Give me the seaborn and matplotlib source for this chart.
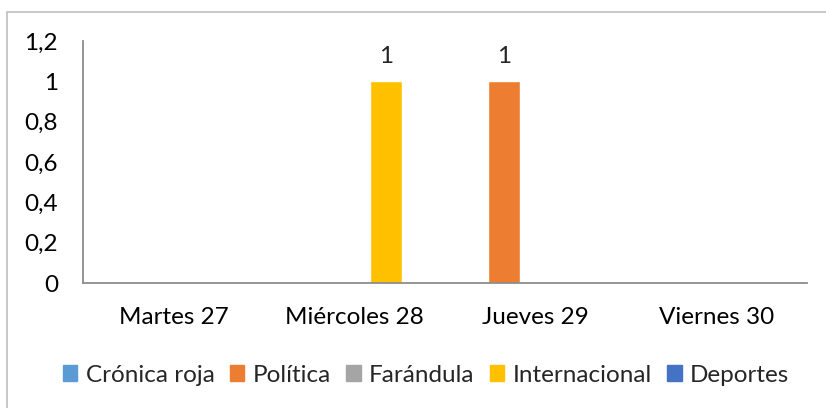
import numpy as np
import pandas as pd
import seaborn as sns
import matplotlib.pyplot as plt
from matplotlib.patches import Rectangle

dias = ['Martes 27', 'Miércoles 28', 'Jueves 29', 'Viernes 30']
cronica_roja = [0, 0, 0, 0]
politica = [0, 0, 1, 0]
farandula = [0, 0, 0, 0]
internacional = [0, 1, 0, 0]
deportes = [0, 0, 0, 0]
series = ['Crónica roja', 'Política', 'Farándula', 'Internacional', 'Deportes']
colores = ['#5B9BD5', '#ED7D31', '#A5A5A5', '#FFC000', '#4472C4']

df = pd.DataFrame({'Crónica roja': cronica_roja, 'Política': politica,
                   'Farándula': farandula, 'Internacional': internacional,
                   'Deportes': deportes}, index=dias)
df = df.reset_index(names='Día').melt(id_vars='Día', var_name='Sección', value_name='Valor')

sns.set_style('white')
plt.rcParams['font.family'] = ['Lato', 'DejaVu Sans']
fs = 17.5

fig = plt.figure(figsize=(8.26, 4.08), dpi=100)
ax = fig.add_axes([83/826, 1-283/408, (807-83)/826, (283-41)/408])
sns.barplot(data=df, x='Día', y='Valor', hue='Sección', hue_order=series,
            palette=colores, width=0.88, ax=ax, legend=False, saturation=1)

for cont in ax.containers:
    labels = [f'{v:g}' if v > 0 else '' for v in cont.datavalues]
    ax.bar_label(cont, labels=labels, padding=10, fontsize=fs)

ax.set_ylim(0, 1.2)
ticks = np.arange(0, 1.21, 0.2)
ax.set_yticks(ticks)
ax.set_yticklabels([f'{t:g}'.replace('.', ',') for t in ticks])
ax.set_xlabel('')
ax.set_ylabel('')
ax.tick_params(axis='both', length=0, labelsize=fs, colors='black')
ax.tick_params(axis='y', pad=18)
ax.tick_params(axis='x', pad=17)
for s in ['top', 'right']:
    ax.spines[s].set_visible(False)
for s in ['left', 'bottom']:
    ax.spines[s].set_color('#8C8C8C')
    ax.spines[s].set_linewidth(1.3)

handles = [Rectangle((0, 0), 1, 1, color=c) for c in colores]
fig.legend(handles, series, loc='center', bbox_to_anchor=(426/826, 1-375/408),
           ncol=5, frameon=False, fontsize=fs, handlelength=0.6, handleheight=0.6,
           handletextpad=0.35, columnspacing=0.62)

fig.patches.append(Rectangle((7/826, -0.1), 1.1, 1-12/408+0.1, transform=fig.transFigure,
                             fill=False, edgecolor='#BFBFBF', linewidth=1.2))

fig.savefig('out.png', dpi=100)
